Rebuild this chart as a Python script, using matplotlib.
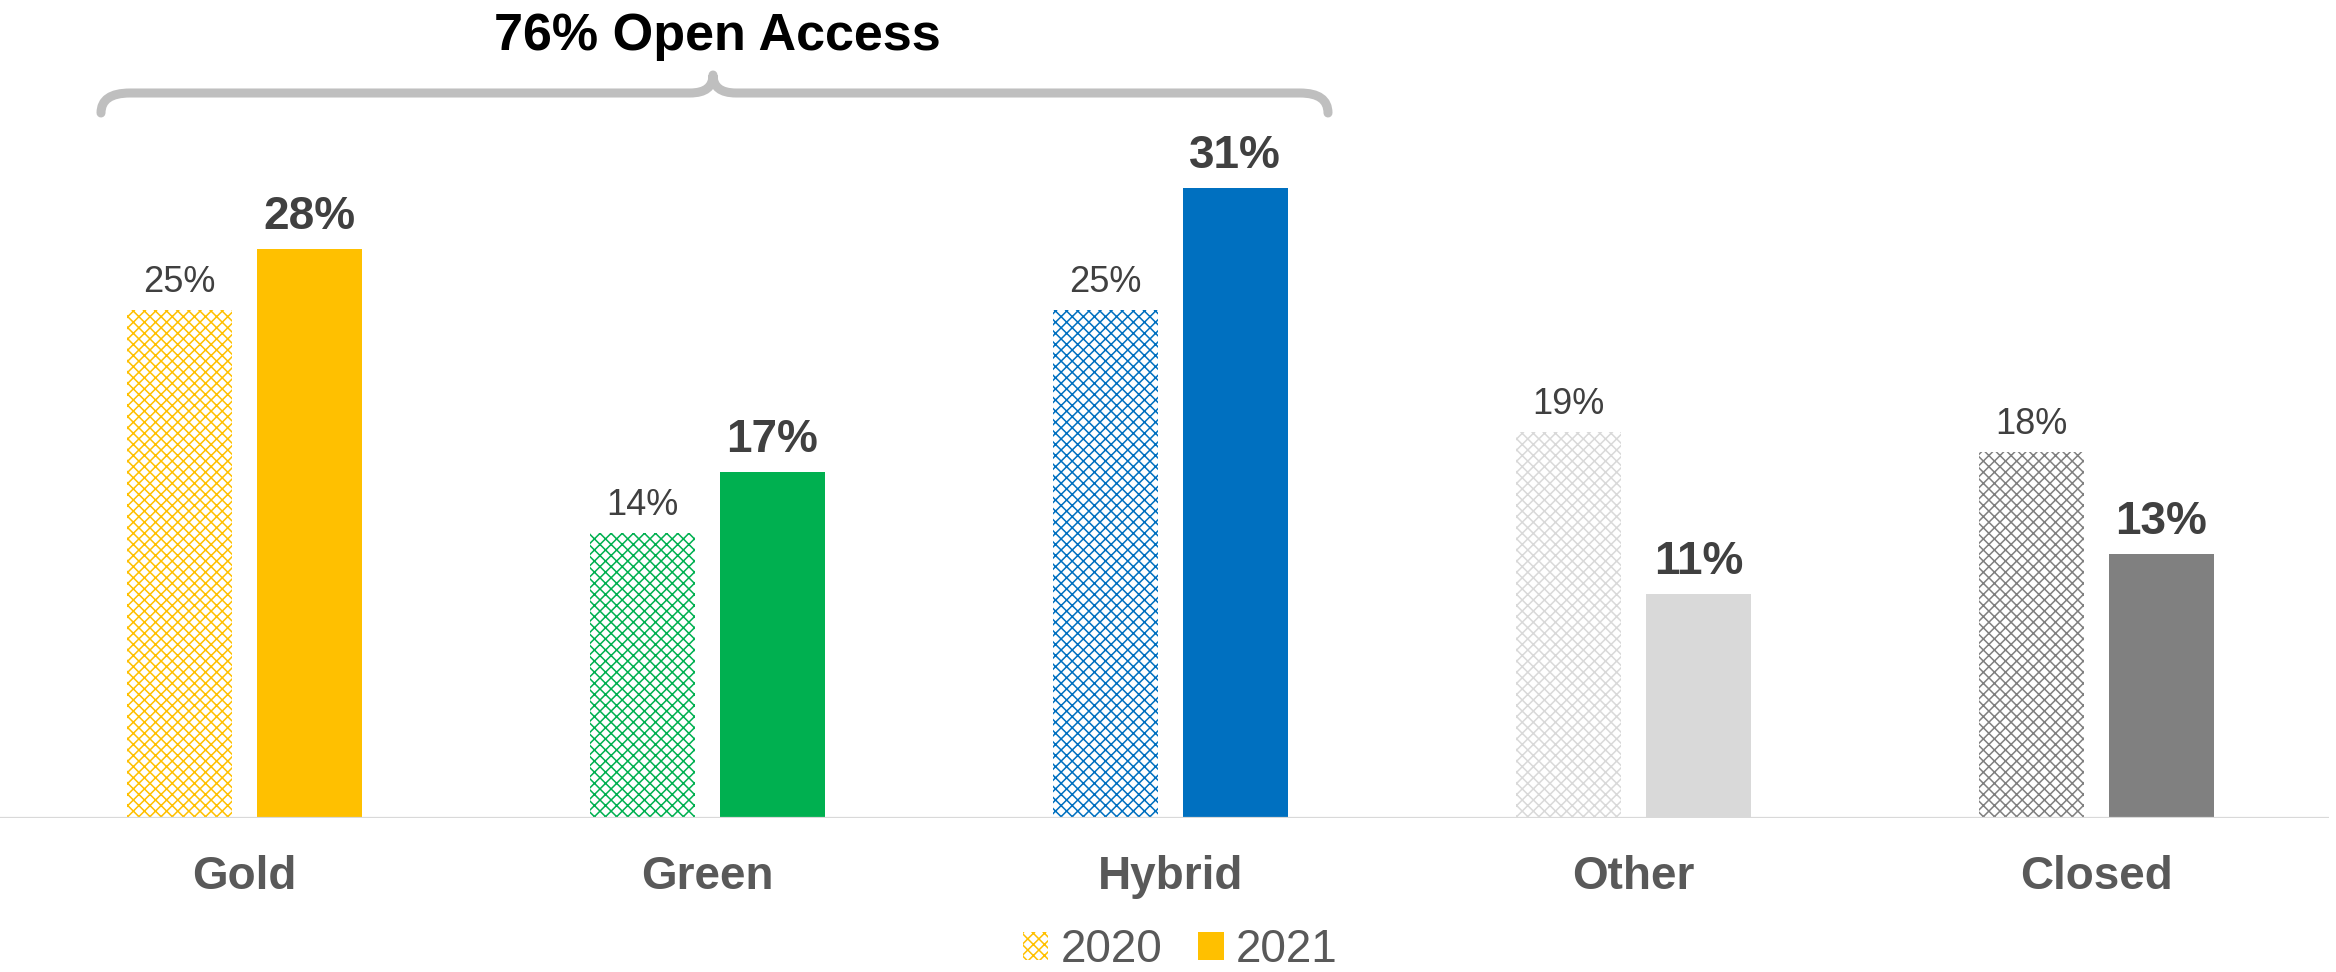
#!/usr/bin/env python3
import matplotlib

matplotlib.use("Agg")
import matplotlib.pyplot as plt  # noqa: E402
from matplotlib.patches import Patch, PathPatch  # noqa: E402
from matplotlib.path import Path  # noqa: E402

categories = ["Gold", "Green", "Hybrid", "Other", "Closed"]
values_2020 = [25, 14, 25, 19, 18]
values_2021 = [28, 17, 31, 11, 13]
series_labels = ["2020", "2021"]
bracket_label = "76% Open Access"

colors = ["#FFC000", "#00B050", "#0070C0", "#D9D9D9", "#808080"]

W, H, DPI = 2336, 972, 100
plt.rcParams["font.family"] = ["Liberation Sans", "DejaVu Sans"]
plt.rcParams["hatch.linewidth"] = 1.1

fig = plt.figure(figsize=(W / DPI, H / DPI), dpi=DPI)
base_px = 818
ax = fig.add_axes([0, (H - base_px) / H, 1, base_px / H])

spacing = 463.0
first = 244.5
ax.set_xlim(-first / spacing, (W - first) / spacing)
ax.set_ylim(0, base_px / 20.33)

bw = 0.227
off = 0.14
xs = list(range(len(categories)))

for i, (v0, v1, c) in enumerate(zip(values_2020, values_2021, colors)):
    ax.bar(i - off, v0, width=bw, facecolor="white", edgecolor=c,
           hatch="xxx", linewidth=0)
    ax.bar(i + off, v1, width=bw, color=c, linewidth=0)
    ax.annotate(f"{v0}%", (i - off, v0), xytext=(0, 13), textcoords="offset points",
                ha="center", va="baseline", fontsize=26, color="#404040")
    ax.annotate(f"{v1}%", (i + off, v1), xytext=(0, 14.4), textcoords="offset points",
                ha="center", va="baseline", fontsize=33, fontweight="bold",
                color="#404040")

for s in ax.spines.values():
    s.set_visible(False)
ax.hlines(0, ax.get_xlim()[0], (2329 - first) / spacing, color="#D9D9D9",
          linewidth=1.6, zorder=3)
ax.set_yticks([])
ax.set_xticks(xs)
ax.set_xticklabels(categories, fontsize=33, fontweight="bold", color="#595959")
ax.tick_params(axis="x", length=0, pad=26.5)


# curly bracket over the open access groups, in pixel coords
def px(x, y):
    return (x / W, 1 - y / H)


verts = [px(101, 113), px(101, 93), px(130, 93),
         px(690, 93), px(713, 93), px(713, 75),
         px(713, 93), px(736, 93),
         px(1300, 93), px(1328, 93), px(1328, 113)]
codes = [Path.MOVETO, Path.CURVE3, Path.CURVE3,
         Path.LINETO, Path.CURVE3, Path.CURVE3,
         Path.CURVE3, Path.CURVE3,
         Path.LINETO, Path.CURVE3, Path.CURVE3]
brace = PathPatch(Path(verts, codes), transform=fig.transFigure, fill=False,
                  edgecolor="#BFBFBF", linewidth=6.5, capstyle="round",
                  joinstyle="round")
fig.add_artist(brace)
fig.text(717 / W, 1 - 50 / H, bracket_label, ha="center", va="baseline",
         fontsize=37.5, fontweight="bold", color="black")

handles = [Patch(facecolor="white", edgecolor=colors[0], hatch="xxx", linewidth=0),
           Patch(facecolor=colors[0], linewidth=0)]
fig.legend(handles, series_labels, loc="center", bbox_to_anchor=(1180 / W, 1 - 950 / H),
           ncol=2, frameon=False, fontsize=33, labelcolor="#595959",
           handlelength=0.56, handleheight=0.56, handletextpad=0.26,
           columnspacing=0.78, borderpad=0)

fig.savefig("out.png", dpi=DPI)
